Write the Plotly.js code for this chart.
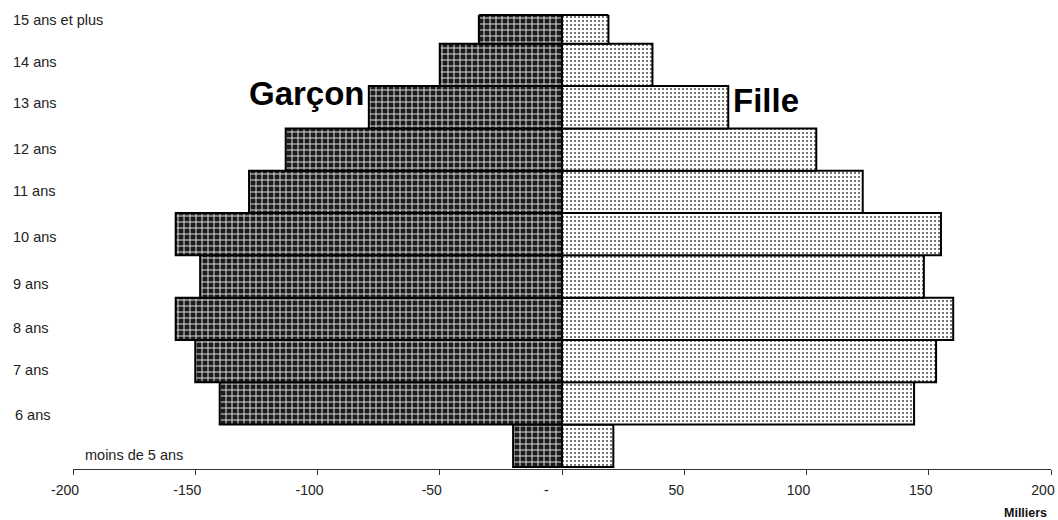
<!DOCTYPE html>
<html>
<head>
<meta charset="utf-8">
<script src="https://cdn.plot.ly/plotly-3.0.1.min.js"></script>
<style>
html,body{margin:0;padding:0;background:#fff;}
#chart{width:1058px;height:520px;}
</style>
</head>
<body>
<div id="chart"></div>
<script>
// ---- Data (milliers) ----
const categories = ['moins de 5 ans','6 ans','7 ans','8 ans','9 ans','10 ans','11 ans','12 ans','13 ans','14 ans','15 ans et plus'];
const garcons = [20, 140, 150, 158, 148, 158, 128, 113, 79, 50, 34];
const filles  = [21, 144, 153, 160, 148, 155, 123, 104, 68, 37, 19];
const tickValues = [-200, -150, -100, -50, 0, 50, 100, 150, 200];
const tickLabels = ['-200', '-150', '-100', '-50', '-', '50', '100', '150', '200'];
const unitLabel = 'Milliers';
const seriesNames = ['Garçon', 'Fille'];

// ---- Styles / label placement ----
const FONT = 'Liberation Sans, Arial, sans-serif';
const NB = '\u00a0';
const labelXShift = [10, -60, -62, -62, -62, -62, -62, -62, -62, -62, -62];
const labelYShift = [-9, -12, -9, -9, -8, -3, 1, 1, 4, 3, 3];
// zero label is drawn further left (accounting format)
const tickText = tickLabels.map((t, i) => tickValues[i] === 0 ? t + NB.repeat(4) : t);

const traces = [
  {
    type: 'bar', orientation: 'h', name: seriesNames[0],
    y: categories, x: garcons.map(v => -v),
    marker: {
      color: '#333',
      line: {color: '#000', width: 2},
      pattern: {shape: '+', fgcolor: '#e2e2e2', bgcolor: '#1c1c1c', size: 6, solidity: 0.3}
    },
    hoverinfo: 'skip'
  },
  {
    type: 'bar', orientation: 'h', name: seriesNames[1],
    y: categories, x: filles,
    marker: {
      color: '#fff',
      line: {color: '#000', width: 2},
      pattern: {shape: '.', fgcolor: '#555', bgcolor: '#fff', size: 4, solidity: 0.22}
    },
    hoverinfo: 'skip'
  }
];

const annotations = categories.map((c, i) => ({
  xref: 'paper', yref: 'y', x: 0, y: c,
  xanchor: 'left', yanchor: 'middle',
  xshift: labelXShift[i], yshift: labelYShift[i],
  text: c, showarrow: false,
  font: {family: FONT, size: 14.5, color: '#222'}
}));

annotations.push({
  xref: 'x', yref: 'paper', x: -129, y: 0.828, xanchor: 'left', yanchor: 'middle',
  text: '<b>' + seriesNames[0] + '</b>', showarrow: false,
  font: {family: FONT, size: 33, color: '#000'}
});
annotations.push({
  xref: 'x', yref: 'paper', x: 69, y: 0.812, xanchor: 'left', yanchor: 'middle',
  text: '<b>' + seriesNames[1] + '</b>', showarrow: false,
  font: {family: FONT, size: 33, color: '#000'}
});
annotations.push({
  xref: 'paper', yref: 'paper', x: 1, y: 0, xanchor: 'right', yanchor: 'middle',
  xshift: -2, yshift: -44, text: '<b>' + unitLabel + '</b>', showarrow: false,
  font: {family: FONT, size: 12.5, color: '#111'}
});

const topIdx = categories.length - 1;
const layout = {
  width: 1058, height: 520,
  margin: {l: 73, r: 7, t: 15, b: 51, pad: 0},
  paper_bgcolor: '#fff', plot_bgcolor: '#fff',
  barmode: 'overlay', bargap: 0,
  showlegend: false,
  xaxis: {
    range: [-200, 200], tickvals: tickValues, ticktext: tickText,
    showgrid: false, zeroline: false, showline: true,
    linecolor: '#333', linewidth: 1,
    ticks: 'outside', ticklen: 5, tickcolor: '#333', tickwidth: 1,
    ticklabelshift: -8, ticklabelstandoff: 3, ticklabeloverflow: 'allow',
    tickfont: {family: FONT, size: 14, color: '#222'},
    fixedrange: true
  },
  yaxis: {
    type: 'category', range: [-0.55, 10.18],
    showticklabels: false, showgrid: false, zeroline: false, showline: false,
    ticks: '', fixedrange: true
  },
  shapes: [{
    type: 'line', xref: 'x', yref: 'paper',
    x0: -garcons[topIdx], x1: filles[topIdx], y0: 1, y1: 1,
    line: {color: '#000', width: 2}
  }],
  annotations: annotations
};

Plotly.newPlot('chart', traces, layout, {displayModeBar: false, staticPlot: true});
</script>
</body>
</html>
